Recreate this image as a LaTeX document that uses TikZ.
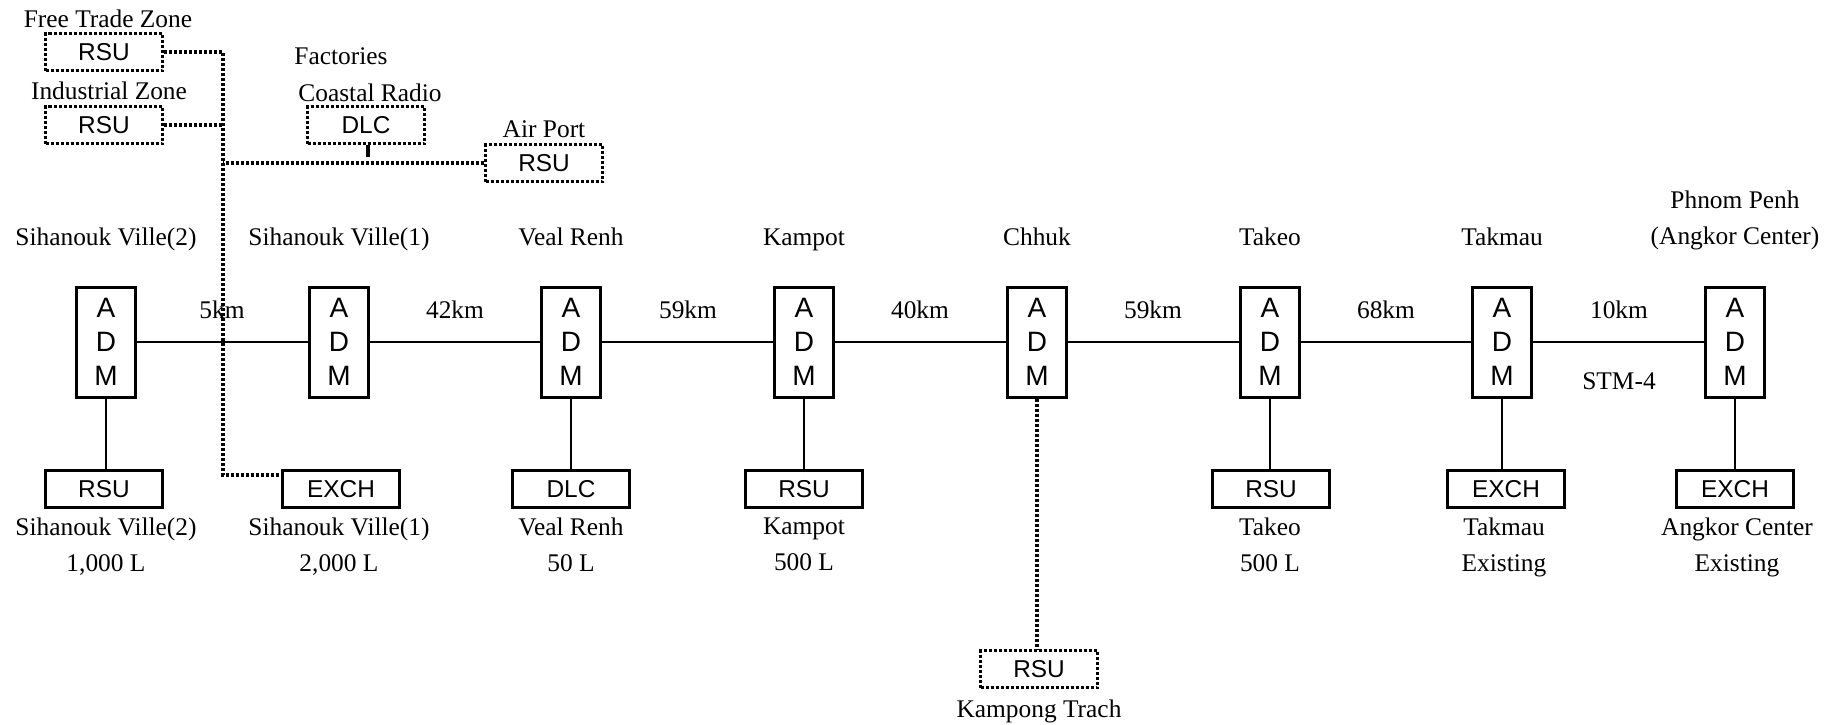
\documentclass[tikz,border=0pt]{standalone}
\usepackage{fontspec}
\setmainfont{Liberation Serif}
\setsansfont{Liberation Sans}
\usetikzlibrary{positioning}

\begin{document}
\begin{tikzpicture}[x=0.5pt,y=-0.5pt,
  adm/.style={draw,line width=1.5pt,minimum width=29.5pt,minimum height=55pt,inner sep=0pt,align=center,font=\sffamily\fontsize{14}{17}\selectfont},
  unit/.style={draw,line width=1.5pt,minimum width=58.5pt,minimum height=18.5pt,inner sep=0pt,font=\sffamily\fontsize{12.2}{14}\selectfont},
  plan/.style={unit,line width=1.6pt,dash pattern=on 1.5pt off 1pt},
  lbl/.style={align=center,inner sep=0pt,yshift=-1pt,font=\fontsize{12.7}{18}\selectfont,execute at begin node=\strut,execute at end node=\strut},
  link/.style={line width=1pt},
  feeder/.style={line width=1.6pt,dash pattern=on 1.5pt off 1pt}]
  \useasboundingbox (0,0) rectangle (1845,724);
  % main ADM chain
  \node[adm] (adm1) at (106,342) {A\\D\\M};
  \node[adm] (adm2) at (339,342) {A\\D\\M};
  \node[adm] (adm3) at (571,342) {A\\D\\M};
  \node[adm] (adm4) at (804,342) {A\\D\\M};
  \node[adm] (adm5) at (1037,342) {A\\D\\M};
  \node[adm] (adm6) at (1270,342) {A\\D\\M};
  \node[adm] (adm7) at (1502,342) {A\\D\\M};
  \node[adm] (adm8) at (1735,342) {A\\D\\M};
  % station names
  \node[lbl] (t1) at (106,236) {Sihanouk Ville(2)};
  \node[lbl] (t2) at (339,236) {Sihanouk Ville(1)};
  \node[lbl] (t3) at (571,236) {Veal Renh};
  \node[lbl] (t4) at (804,236) {Kampot};
  \node[lbl] (t5) at (1037,236) {Chhuk};
  \node[lbl] (t6) at (1270,236) {Takeo};
  \node[lbl] (t7) at (1502,236) {Takmau};
  \node[lbl] (t8) at (1735,221) {Phnom Penh\\(Angkor Center)};
  % section lengths
  \node[lbl] (d1) at (222,309) {5km};
  \node[lbl] (d2) at (455,309) {42km};
  \node[lbl] (d3) at (688,309) {59km};
  \node[lbl] (d4) at (920,309) {40km};
  \node[lbl] (d5) at (1153,309) {59km};
  \node[lbl] (d6) at (1386,309) {68km};
  \node[lbl] (d7) at (1619,309) {10km};
  \node[lbl] (stm) at (1619,380) {STM-4};
  % tributary units
  \node[unit] (b1) at (104,489) {RSU};
  \node[unit] (b2) at (341,489) {EXCH};
  \node[unit] (b3) at (571,489) {DLC};
  \node[unit] (b4) at (804,489) {RSU};
  \node[unit] (b6) at (1271,489) {RSU};
  \node[unit] (b7) at (1506,489) {EXCH};
  \node[unit] (b8) at (1735,489) {EXCH};
  \node[lbl] (s1) at (106,548) {Sihanouk Ville(2)\\1,000 L};
  \node[lbl] (s2) at (339,548) {Sihanouk Ville(1)\\2,000 L};
  \node[lbl] (s3) at (571,548) {Veal Renh\\50 L};
  \node[lbl] (s4) at (804,548) {Kampot\\500 L};
  \node[lbl] (s6) at (1270,548) {Takeo\\500 L};
  \node[lbl] (s7) at (1504,548) {Takmau\\Existing};
  \node[lbl] (s8) at (1737,548) {Angkor Center\\Existing};
  % planned units
  \node[plan] (ftz) at (104,52) {RSU};
  \node[plan] (ind) at (104,125) {RSU};
  \node[plan] (crd) at (366,125) {DLC};
  \node[plan] (apt) at (544,163) {RSU};
  \node[plan] (kpt) at (1039,669) {RSU};
  \node[lbl] (ftzl) at (108,18) {Free Trade Zone};
  \node[lbl] (indl) at (109,90) {Industrial Zone};
  \node[lbl] (fac) at (341,55) {Factories};
  \node[lbl] (crdl) at (370,92) {Coastal Radio};
  \node[lbl] (aptl) at (544,128) {Air Port};
  \node[lbl] (kptl) at (1039,708) {Kampong Trach};
  \coordinate (bus) at (223,475);
  % links
  \draw[link] (adm1.east) -- (adm2.west);
  \draw[link] (adm2.east) -- (adm3.west);
  \draw[link] (adm3.east) -- (adm4.west);
  \draw[link] (adm4.east) -- (adm5.west);
  \draw[link] (adm5.east) -- (adm6.west);
  \draw[link] (adm6.east) -- (adm7.west);
  \draw[link] (adm7.east) -- (adm8.west);
  \draw[link] (adm1.south) -- (adm1.south |- b1.north);
  \draw[link] (adm3.south) -- (b3.north);
  \draw[link] (adm4.south) -- (b4.north);
  \draw[link] (adm6.south) -- (adm6.south |- b6.north);
  \draw[link] (adm7.south) -- (adm7.south |- b7.north);
  \draw[link] (adm8.south) -- (b8.north);
  \draw[feeder] (ftz.east) -| (bus) -- (bus -| b2.west);
  \draw[feeder] (ind.east) -- (ind.east -| bus);
  \draw[feeder] (apt.west) -- (apt.west -| bus);
  \draw[link,line width=1.6pt] ([xshift=1pt]crd.south) -- ([xshift=1pt,yshift=3pt]crd.south |- apt.west);
  \draw[feeder] (adm5.south) -- (adm5.south |- kpt.north);
\end{tikzpicture}
\end{document}
